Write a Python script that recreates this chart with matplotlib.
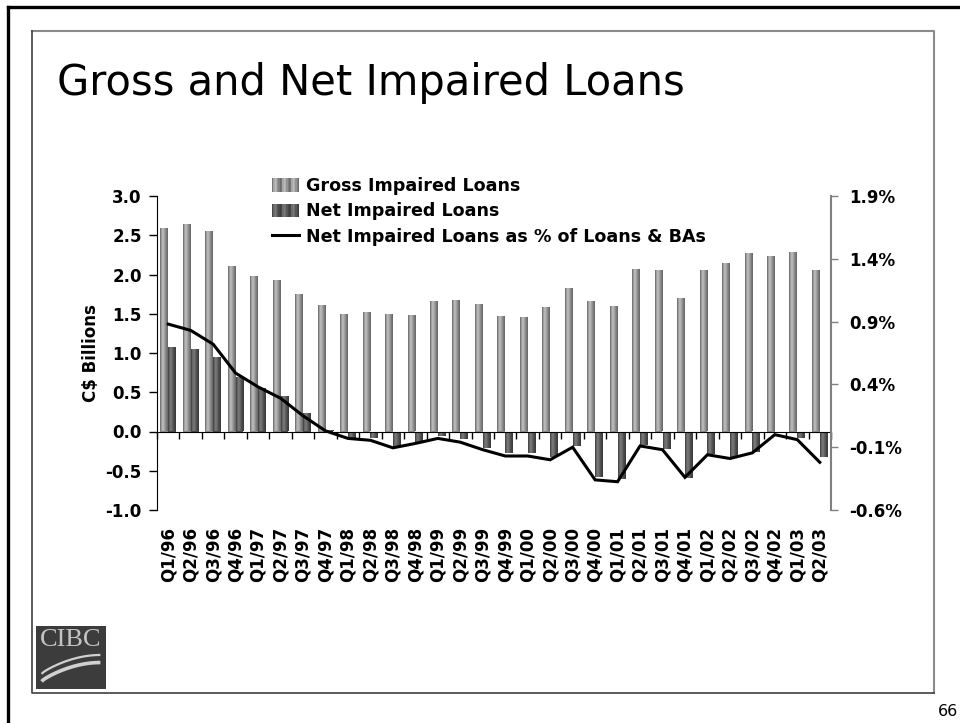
import numpy as np
import matplotlib
matplotlib.use("Agg")
import matplotlib.pyplot as plt
from matplotlib.patches import Rectangle
from matplotlib.lines import Line2D
from matplotlib.legend_handler import HandlerBase
from matplotlib.ticker import FuncFormatter

# ---- data -------------------------------------------------------------
quarters = ["Q1/96", "Q2/96", "Q3/96", "Q4/96", "Q1/97", "Q2/97", "Q3/97", "Q4/97",
            "Q1/98", "Q2/98", "Q3/98", "Q4/98", "Q1/99", "Q2/99", "Q3/99", "Q4/99",
            "Q1/00", "Q2/00", "Q3/00", "Q4/00", "Q1/01", "Q2/01", "Q3/01", "Q4/01",
            "Q1/02", "Q2/02", "Q3/02", "Q4/02", "Q1/03", "Q2/03"]

gross_impaired = [2.59, 2.64, 2.55, 2.11, 1.98, 1.93, 1.75, 1.61,
                  1.50, 1.52, 1.50, 1.48, 1.66, 1.68, 1.62, 1.47,
                  1.46, 1.59, 1.83, 1.66, 1.60, 2.07, 2.06, 1.70,
                  2.06, 2.15, 2.27, 2.24, 2.29, 2.06]

net_impaired = [1.08, 1.05, 0.95, 0.69, 0.56, 0.45, 0.23, 0.02,
                -0.08, -0.08, -0.20, -0.13, -0.06, -0.09, -0.21, -0.27,
                -0.27, -0.32, -0.18, -0.58, -0.61, -0.17, -0.22, -0.59,
                -0.29, -0.33, -0.26, -0.02, -0.08, -0.33]

net_pct_of_loans = [0.88, 0.83, 0.72, 0.49, 0.38, 0.29, 0.15, 0.03,
                    -0.03, -0.045, -0.105, -0.07, -0.03, -0.06, -0.12, -0.17,
                    -0.17, -0.20, -0.10, -0.36, -0.375, -0.09, -0.12, -0.34,
                    -0.16, -0.19, -0.145, 0.00, -0.04, -0.22]

left_ticks = [-1.0, -0.5, 0.0, 0.5, 1.0, 1.5, 2.0, 2.5, 3.0]
right_ticks = [-0.6, -0.1, 0.4, 0.9, 1.4, 1.9]

series_names = ["Gross Impaired Loans", "Net Impaired Loans",
                "Net Impaired Loans as % of Loans & BAs"]

# ---- styling ----------------------------------------------------------
plt.rcParams["font.family"] = ["DejaVu Sans"]
FS = 12
gross_shades = [0.46, 0.66, 0.74, 0.68, 0.58, 0.50, 0.42]
net_shades = [0.28, 0.42, 0.48, 0.42, 0.34, 0.28, 0.24]

W, H = 960, 723
fig = plt.figure(figsize=(W / 100, H / 100), dpi=100)


def fx(px):
    return px / W


def fy(py):
    return 1 - py / H


# page frame: heavy rule on top and left, grey slide box inside
fig.add_artist(Line2D([fx(8), 1.0], [fy(7), fy(7)], transform=fig.transFigure,
                      color="black", lw=2.4))
fig.add_artist(Line2D([fx(8), fx(8)], [fy(7), 0.0], transform=fig.transFigure,
                      color="black", lw=2.4))
fig.add_artist(Line2D([fx(32), fx(934), fx(934)], [fy(31), fy(31), fy(693)],
                      transform=fig.transFigure, color="#8a8a8a", lw=1.5))
fig.add_artist(Line2D([fx(32), fx(32), fx(934)], [fy(31), fy(693), fy(693)],
                      transform=fig.transFigure, color="#404040", lw=1.2))

fig.text(fx(57), fy(95), "Gross and Net Impaired Loans", fontsize=30,
         ha="left", va="baseline", color="black")
fig.text(fx(938), fy(711), "66", fontsize=11.5, ha="left", va="center")

# ---- main chart -------------------------------------------------------
ax = fig.add_axes([fx(157), fy(510), fx(831) - fx(157), fy(196) - fy(510)])
x = np.arange(len(quarters))
bw = 0.35

bars_g = ax.bar(x - bw / 2, gross_impaired, width=bw, color="#8c8c8c",
                edgecolor="none", zorder=2)
bars_n = ax.bar(x + bw / 2, net_impaired, width=bw, color="#4a4a4a",
                edgecolor="none", zorder=2)


def shade_bars(container, shades):
    grad = np.array(shades)[None, :, None].repeat(3, axis=2)
    for p in container.patches:
        x0, y0 = p.get_x(), p.get_y()
        x1, y1 = x0 + p.get_width(), y0 + p.get_height()
        im = ax.imshow(grad, extent=[x0, x1, min(y0, y1), max(y0, y1)],
                       aspect="auto", interpolation="bilinear", zorder=3)
        im.set_clip_path(p)


shade_bars(bars_g, gross_shades)
shade_bars(bars_n, net_shades)

ax.set_xlim(-0.5, len(quarters) - 0.5)
ax.set_ylim(-1.0, 3.0)
ax.set_yticks(left_ticks)
ax.yaxis.set_major_formatter(FuncFormatter(lambda v, _: f"{v:.1f}"))
for lab in ax.get_yticklabels():
    lab.set_fontweight("bold")
    lab.set_fontsize(FS)
ax.tick_params(axis="y", direction="out", length=6, width=1, pad=5, colors="black")
ax.set_ylabel("C$ Billions", fontsize=FS, fontweight="bold", labelpad=4)

ax.spines["top"].set_visible(False)
ax.spines["right"].set_visible(False)
ax.spines["bottom"].set_position(("data", 0))
ax.spines["bottom"].set_zorder(4)
ax.set_xticks(np.arange(len(quarters) + 1) - 0.5)
ax.set_xticklabels([])
ax.tick_params(axis="x", direction="out", length=5, width=1)

# category labels along the bottom edge of the plot area
sec = ax.secondary_xaxis(0)
sec.set_xticks(x)
sec.set_xticklabels(quarters, rotation=90, fontsize=FS, fontweight="bold",
                    va="top", ha="center")
sec.tick_params(axis="x", length=0, pad=12)
sec.spines["bottom"].set_visible(False)

# ---- ratio line on the right axis -------------------------------------
ax2 = ax.twinx()
ax2.plot(x, net_pct_of_loans, color="black", lw=2.2, zorder=5,
         solid_joinstyle="miter")
ax2.set_ylim(-0.6, 1.9)
ax2.set_yticks(right_ticks)
ax2.yaxis.set_major_formatter(FuncFormatter(lambda v, _: f"{v:.1f}%"))
for lab in ax2.get_yticklabels():
    lab.set_fontweight("bold")
    lab.set_fontsize(FS)
ax2.tick_params(axis="y", direction="out", length=5, width=1, pad=8,
                color="#808080")
for side in ("top", "left", "bottom"):
    ax2.spines[side].set_visible(False)
ax2.spines["right"].set_color("#808080")
ax2.spines["right"].set_linewidth(1.5)


# ---- legend -----------------------------------------------------------
class ShadedPatchHandler(HandlerBase):
    def __init__(self, shades):
        super().__init__()
        self.shades = shades

    def create_artists(self, legend, orig_handle, xdescent, ydescent,
                       width, height, fontsize, trans):
        arts = []
        n = 3 * len(self.shades)
        step = width / n
        tiled = self.shades * 3
        for i, s in enumerate(tiled):
            r = Rectangle((-xdescent + i * step, -ydescent), step * 1.05, height,
                          facecolor=(s, s, s), edgecolor="none", transform=trans)
            arts.append(r)
        return arts


h_gross = Rectangle((0, 0), 1, 1, facecolor="#8c8c8c")
h_net = Rectangle((0, 0), 1, 1, facecolor="#4a4a4a")
h_line = Line2D([], [], color="black", lw=2.2)
leg = ax2.legend([h_gross, h_net, h_line], series_names,
                 handler_map={h_gross: ShadedPatchHandler(gross_shades),
                              h_net: ShadedPatchHandler(net_shades)},
                 loc="upper left", bbox_to_anchor=(fx(272), fy(177)),
                 bbox_transform=fig.transFigure, frameon=False,
                 prop={"weight": "bold", "size": 12.6}, handlelength=1.55,
                 handleheight=0.8, handletextpad=0.4, labelspacing=0.42,
                 borderpad=0, borderaxespad=0)

# ---- logo block -------------------------------------------------------
lax = fig.add_axes([fx(36), fy(689), fx(106) - fx(36), fy(626) - fy(689)])
lax.set_xlim(0, 1)
lax.set_ylim(0, 1)
lax.set_facecolor("#3c3c3c")
lax.set_xticks([])
lax.set_yticks([])
for s in lax.spines.values():
    s.set_visible(False)
lax.text(0.5, 0.78, "CIBC", fontsize=19, family=["Liberation Serif"],
         color="#c4c4c4", ha="center", va="center")
t = np.linspace(0, 1, 50)
for off, lw in ((0.0, 2.6), (0.12, 1.6)):
    xs = 0.08 + 0.84 * t
    ys = 0.12 + off + 0.30 * np.sin(t * np.pi / 2) ** 0.8
    lax.plot(xs, ys, color="#d0d0d0", lw=lw, solid_capstyle="butt")

fig.savefig("out.png", dpi=100)
